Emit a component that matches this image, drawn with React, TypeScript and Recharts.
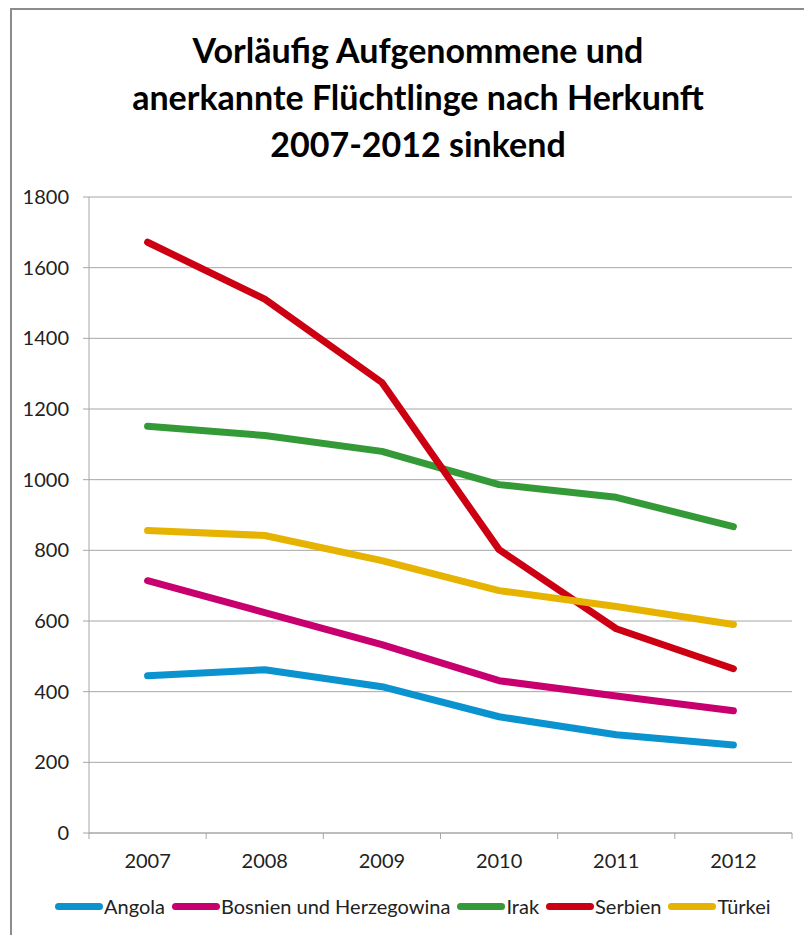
import { LineChart, Line, XAxis, YAxis, CartesianGrid } from "recharts";

const years = ["2007", "2008", "2009", "2010", "2011", "2012"];
const angola = [445, 462, 414, 329, 278, 249];
const bosnien = [714, 624, 533, 431, 388, 346];
const irak = [1151, 1125, 1080, 986, 950, 867];
const serbien = [1672, 1511, 1275, 802, 578, 465];
const tuerkei = [856, 842, 771, 686, 641, 590];
const yTicks = [0, 200, 400, 600, 800, 1000, 1200, 1400, 1600, 1800];

const series = [
  { key: "Angola", values: angola, color: "#0b93d0" },
  { key: "Bosnien und Herzegowina", values: bosnien, color: "#c8006f" },
  { key: "Irak", values: irak, color: "#349a38" },
  { key: "Serbien", values: serbien, color: "#cc0012" },
  { key: "Türkei", values: tuerkei, color: "#e6b400" },
];

const data = years.map((year, i) => {
  const row: Record<string, number | string> = { pos: i + 0.5, year };
  series.forEach((s) => (row[s.key] = s.values[i]));
  return row;
});

const font = "Lato, 'Open Sans', sans-serif";
const boundaryTicks = years.map((_, i) => i).concat(years.length);
const centerTicks = years.map((_, i) => i + 0.5);

export default function App() {
  return (
    <div style={{ position: "absolute", left: 0, top: 0, width: 804, height: 935, overflow: "hidden", background: "#fff", fontFamily: font }}>
      {/* chart frame, right and bottom edges fall outside the picture */}
      <div style={{ position: "absolute", left: 10, top: 8, width: 830, height: 950, border: "2px solid #8c8c8c" }} />

      <div style={{ position: "absolute", left: 18, width: 800, top: 26, textAlign: "center", fontWeight: 700, fontSize: 34, lineHeight: "47px", color: "#000" }}>
        Vorläufig Aufgenommene und
        <br />
        anerkannte Flüchtlinge nach Herkunft
        <br />
        2007-2012 sinkend
      </div>

      <div style={{ position: "absolute", left: 0, top: 0 }}>
        <LineChart width={804} height={935} data={data} margin={{ top: 197, right: 12, bottom: 50, left: 0 }}>
          <CartesianGrid vertical={false} stroke="#a6a6a6" xAxisId="grid" />
          <XAxis
            xAxisId="grid"
            type="number"
            dataKey="pos"
            domain={[0, years.length]}
            ticks={boundaryTicks}
            tickFormatter={() => ""}
            tickSize={6}
            height={6}
            stroke="#a6a6a6"
          />
          <XAxis
            xAxisId="labels"
            type="number"
            dataKey="pos"
            domain={[0, years.length]}
            ticks={centerTicks}
            tickFormatter={(v: number) => years[Math.floor(v)]}
            axisLine={false}
            tickLine={false}
            tickSize={0}
            tickMargin={15}
            height={46}
            tick={{ fontSize: 20, fill: "#222", fontFamily: font }}
          />
          <YAxis
            domain={[0, 1800]}
            ticks={yTicks}
            width={89}
            tickSize={6}
            tickMargin={14}
            stroke="#a6a6a6"
            tick={{ fontSize: 20, fill: "#222", fontFamily: font }}
          />
          {series.map((s) => (
            <Line
              key={s.key}
              xAxisId="grid"
              type="linear"
              dataKey={s.key}
              stroke={s.color}
              strokeWidth={7}
              strokeLinecap="round"
              strokeLinejoin="round"
              dot={false}
              isAnimationActive={false}
            />
          ))}
        </LineChart>
      </div>

      {/* legend */}
      <div style={{ position: "absolute", left: 55, top: 894, display: "flex", alignItems: "center", fontSize: 20, color: "#222", whiteSpace: "nowrap" }}>
        {series.map((s) => (
          <div key={s.key} style={{ display: "flex", alignItems: "center", marginRight: 7 }}>
            <span style={{ display: "inline-block", width: 48, height: 7, borderRadius: 4, background: s.color, marginRight: 1 }} />
            <span>{s.key}</span>
          </div>
        ))}
      </div>
    </div>
  );
}
